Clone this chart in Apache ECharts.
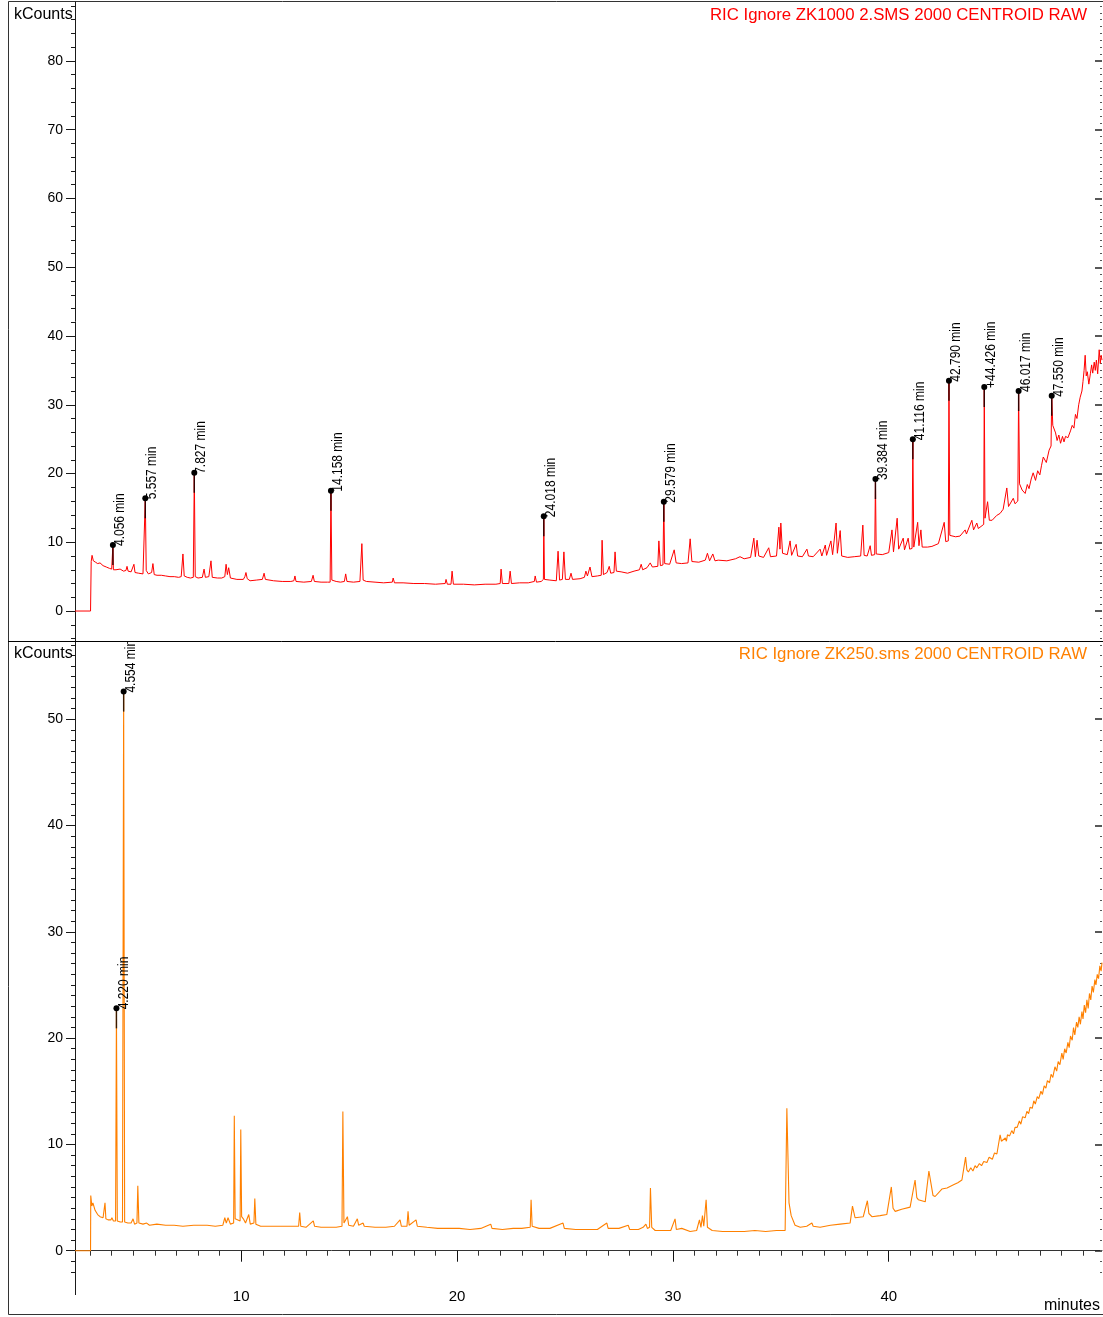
<!DOCTYPE html>
<html><head><meta charset="utf-8">
<script src="https://cdn.jsdelivr.net/npm/echarts@6/dist/echarts.min.js"></script>
<style>html,body{margin:0;padding:0;background:#fff}#c{width:1103px;height:1317px}</style>
</head><body><div id="c"></div>
<script>
// ---- Top trace: RIC ZK1000 2.SMS (minutes, kCounts) ----
const topTime = [2.3,3.02,3.05,3.09,3.15,3.25,3.35,3.46,3.6,3.75,3.9,4.0,4.04,4.056,4.08,4.2,4.39,4.55,4.66,4.71,4.76,4.9,4.98,5.03,5.08,5.25,5.45,5.53,5.557,5.6,5.7,5.78,5.85,5.91,5.97,6.1,6.3,6.5,6.7,6.9,7.1,7.22,7.3,7.36,7.5,7.65,7.78,7.827,7.87,8.0,8.09,8.2,8.28,8.34,8.5,8.6,8.66,8.9,9.1,9.24,9.3,9.36,9.42,9.5,9.8,10.1,10.17,10.22,10.28,10.41,10.7,10.98,11.06,11.12,11.5,11.9,12.3,12.44,12.49,12.54,12.9,13.25,13.33,13.39,13.7,14.0,14.12,14.158,14.2,14.4,14.6,14.78,14.84,14.9,15.2,15.5,15.59,15.65,15.8,16.2,16.6,17.0,17.04,17.1,17.5,18.0,18.5,19.0,19.45,19.49,19.55,19.72,19.77,19.83,20.3,20.8,21.3,21.8,22.0,22.04,22.1,22.4,22.46,22.52,22.9,23.3,23.58,23.62,23.68,23.9,24.0,24.018,24.05,24.3,24.6,24.68,24.75,24.88,24.95,25.02,25.2,25.28,25.35,25.7,25.9,25.97,26.04,26.16,26.25,26.5,26.68,26.72,26.78,26.95,27.05,27.12,27.27,27.32,27.38,27.6,27.9,28.2,28.45,28.53,28.6,28.8,28.95,29.05,29.3,29.35,29.42,29.54,29.579,29.62,29.85,30.06,30.15,30.4,30.7,30.8,30.88,31.2,31.5,31.6,31.7,31.85,31.95,32.1,32.5,32.9,33.11,33.3,33.6,33.75,33.82,33.9,33.98,34.2,34.44,34.52,34.8,34.91,34.96,35.0,35.08,35.3,35.43,35.5,35.71,35.78,36.0,36.21,36.28,36.5,36.82,36.9,37.06,37.12,37.32,37.4,37.56,37.62,37.75,37.82,38.1,38.4,38.7,38.8,38.86,39.0,39.14,39.2,39.35,39.384,39.42,39.7,40.0,40.15,40.22,40.39,40.46,40.67,40.73,40.9,40.97,41.08,41.116,41.16,41.34,41.4,41.49,41.55,41.8,42.0,42.3,42.57,42.64,42.76,42.79,42.83,42.88,43.1,43.3,43.54,43.6,43.85,43.93,44.08,44.15,44.24,44.4,44.426,44.46,44.58,44.66,44.79,45.0,45.16,45.3,45.47,45.55,45.77,45.85,45.98,46.017,46.06,46.18,46.32,46.42,46.5,46.6,46.69,46.8,46.9,47.0,47.08,47.16,47.3,47.43,47.52,47.55,47.6,47.73,47.8,47.88,47.96,48.05,48.12,48.19,48.3,48.42,48.5,48.58,48.65,48.72,48.8,48.87,48.95,49.0,49.05,49.1,49.15,49.2,49.27,49.34,49.4,49.45,49.52,49.57,49.62,49.68,49.75,49.8,49.84,49.88];
const topValue = [0,0,7.2,8.1,7.3,7.1,6.9,7.0,6.6,6.4,6.2,6.1,6.3,9.6,6.0,6.0,6.1,5.8,5.9,6.5,5.8,5.7,5.8,6.8,5.6,5.5,5.4,5.6,16.4,5.9,5.4,5.5,5.6,6.9,5.3,5.2,5.2,5.1,5.0,5.0,4.9,5.0,8.3,5.1,4.9,4.8,4.9,20.1,5.0,4.8,4.8,4.9,6.1,4.9,5.0,7.3,4.9,4.8,4.8,5.0,6.8,5.3,6.3,4.8,4.6,4.6,5.0,5.6,4.7,4.4,4.5,4.6,5.5,4.6,4.4,4.3,4.3,4.4,5.1,4.3,4.2,4.3,5.2,4.3,4.2,4.2,4.2,17.5,4.5,4.3,4.2,4.3,5.4,4.3,4.2,4.3,9.8,4.5,4.3,4.2,4.1,4.2,4.8,4.1,4.1,4.0,4.0,3.9,4.0,4.6,3.9,3.9,5.8,3.9,3.9,3.8,3.9,3.9,4.0,6.1,4.0,4.0,5.8,4.0,4.1,4.1,4.3,5.1,4.2,4.3,4.6,13.8,4.6,4.5,4.4,8.7,4.5,4.6,8.6,4.6,4.6,5.5,4.6,4.7,4.9,5.8,5.1,6.4,5.0,5.1,5.2,10.3,5.3,5.6,6.5,5.5,5.6,8.6,5.8,5.7,5.5,5.8,6.0,6.8,6.0,6.3,7.0,6.4,6.5,10.2,6.6,6.7,15.9,6.9,6.8,8.9,7.0,6.9,7.0,10.5,7.2,7.1,7.4,8.4,7.3,8.3,7.3,7.4,7.3,7.6,7.9,7.6,7.8,10.6,7.9,10.3,8.0,7.8,9.2,7.9,8.0,12.2,9.0,12.8,8.4,8.2,10.2,8.1,9.7,8.0,7.9,9.0,8.0,7.9,9.0,8.0,9.6,8.1,10.2,8.2,12.8,8.4,11.7,8.0,7.8,7.9,8.0,12.5,8.1,8.0,9.5,8.1,8.2,19.2,8.3,8.2,8.5,11.8,8.6,13.5,9.0,10.6,8.9,10.6,9.0,9.1,25.0,9.3,12.9,9.5,11.8,9.3,9.3,9.4,9.8,12.9,10.1,10.2,33.5,11.0,10.8,10.8,10.9,11.8,11.2,13.2,11.8,12.8,12.0,12.2,12.6,32.6,13.5,15.9,13.2,13.2,13.9,14.2,14.8,17.9,15.2,16.4,15.6,16.0,32.0,18.5,17.6,17.1,18.4,17.8,19.2,20.1,19.0,20.4,19.8,21.2,22.4,21.6,23.4,24.0,31.3,27.0,25.9,24.8,25.6,24.4,25.4,24.6,25.4,25.2,26.2,27.0,26.6,28.6,28.0,30.0,31.1,32.0,33.4,35.0,37.2,34.2,34.8,33.0,34.5,35.8,34.6,36.2,35.0,36.5,34.5,38.0,36.0,37.2,36.5];

// ---- Bottom trace: RIC ZK250.sms ----
const botTime = [2.3,3.02,3.03,3.08,3.13,3.23,3.35,3.46,3.6,3.66,3.69,3.73,3.83,3.96,4.01,4.08,4.18,4.22,4.26,4.4,4.5,4.554,4.6,4.75,4.9,4.99,5.06,5.17,5.21,5.26,5.45,5.62,5.75,6.09,6.5,6.89,7.3,7.8,8.42,8.8,9.15,9.24,9.31,9.39,9.5,9.65,9.68,9.72,9.81,9.95,9.98,10.02,10.1,10.2,10.35,10.42,10.59,10.63,10.68,10.9,11.3,11.8,12.2,12.66,12.71,12.76,13.0,13.34,13.4,13.7,14.1,14.4,14.67,14.71,14.76,14.85,14.92,14.98,15.2,15.38,15.44,15.65,15.7,16.2,16.7,17.1,17.36,17.42,17.68,17.73,17.78,18.1,18.16,18.6,19.1,19.6,20.1,20.6,21.1,21.56,21.62,22.1,22.6,23.0,23.39,23.43,23.48,23.8,24.3,24.91,24.97,25.5,26.0,26.5,26.94,27.0,27.5,27.93,28.0,28.4,28.62,28.75,28.82,28.92,28.96,29.02,29.18,29.6,29.9,30.1,30.16,30.41,30.8,31.1,31.23,31.3,31.37,31.43,31.54,31.6,31.82,32.3,32.8,33.3,33.8,34.3,34.8,35.2,35.28,35.38,35.48,35.66,35.9,36.2,36.44,36.5,36.82,37.3,37.75,38.21,38.32,38.44,38.82,39.01,39.08,39.22,39.6,39.91,40.12,40.2,40.3,40.6,40.99,41.22,41.3,41.37,41.69,41.86,41.95,42.05,42.15,42.46,42.7,43.0,43.2,43.39,43.56,43.62,43.69,43.8,43.9,44.0,44.08,44.2,44.3,44.4,44.55,44.65,44.8,44.9,45.01,45.16,45.22,45.29,45.4,45.45,45.5,45.6,45.7,45.78,45.85,45.95,46.05,46.12,46.2,46.32,46.4,46.48,46.55,46.65,46.72,46.79,46.88,46.95,47.05,47.12,47.2,47.28,47.35,47.45,47.52,47.6,47.7,47.78,47.85,47.93,48.02,48.08,48.15,48.22,48.3,48.36,48.42,48.5,48.56,48.62,48.7,48.76,48.82,48.88,48.95,49.0,49.06,49.12,49.18,49.24,49.3,49.36,49.42,49.48,49.55,49.6,49.66,49.72,49.78,49.84,49.88];
const botValue = [0,0,5.2,4.2,4.5,3.8,3.4,3.2,3.1,3.2,4.5,3.0,2.9,2.9,3.1,2.8,2.8,22.8,2.8,2.7,2.7,52.6,2.7,2.6,2.6,3.0,2.5,2.6,6.1,2.6,2.5,2.6,2.4,2.5,2.4,2.4,2.3,2.4,2.4,2.3,2.4,3.1,2.6,3.1,2.5,2.6,12.7,3.0,2.9,2.8,11.4,3.2,3.0,2.6,3.4,2.5,2.6,4.9,2.5,2.3,2.3,2.3,2.3,2.3,3.6,2.3,2.2,2.8,2.3,2.2,2.2,2.2,2.3,13.1,2.6,2.5,3.2,2.4,2.3,3.0,2.4,2.6,2.3,2.2,2.2,2.3,2.9,2.3,2.3,3.7,2.4,2.9,2.3,2.2,2.1,2.1,2.1,2.0,2.1,2.5,2.1,2.0,2.1,2.1,2.2,4.8,2.3,2.1,2.1,2.6,2.1,2.0,2.0,2.0,2.6,2.1,2.1,2.4,2.0,2.0,2.2,2.5,2.1,2.2,5.9,2.2,1.9,1.9,1.9,3.0,2.0,2.1,1.8,1.9,2.9,2.2,3.3,2.3,4.8,2.2,1.9,1.8,1.8,1.8,1.9,1.8,1.9,1.9,13.4,4.5,3.3,2.4,2.2,2.3,2.6,2.3,2.2,2.4,2.5,2.6,4.2,3.1,3.2,4.7,3.5,3.2,3.3,3.4,6.0,4.0,3.7,3.9,4.1,6.65,5.0,4.8,4.6,7.5,6.4,5.2,5.1,5.8,5.9,6.2,6.4,6.65,8.8,7.6,7.4,7.8,7.5,8.0,7.8,8.2,8.0,8.4,8.3,8.8,8.6,9.2,9.1,10.9,10.3,10.2,10.6,10.3,10.9,10.8,11.3,11.0,11.6,11.6,12.2,11.9,12.6,12.5,13.1,12.9,13.5,13.4,14.1,13.8,14.5,14.3,15.0,14.7,15.5,15.3,16.0,15.8,16.6,16.3,17.3,16.9,17.8,17.5,18.6,18.0,19.0,18.6,19.6,19.1,20.2,19.8,21.0,20.3,21.5,21.0,22.0,21.3,22.5,21.8,23.1,22.4,23.6,22.8,24.2,23.6,24.9,24.3,25.5,25.0,26.0,25.6,26.8,26.3,27.1];

// ---- Labelled peaks ----
const topPeakTimes = [4.056,5.557,7.827,14.158,24.018,29.579,39.384,41.116,42.79,44.426,46.017,47.55];
const topPeakHeights = [9.6,16.4,20.1,17.5,13.8,15.9,19.2,25.0,33.5,32.6,32.0,31.3];
const topPeakLabels = ['4.056 min','5.557 min','7.827 min','14.158 min','24.018 min','29.579 min','39.384 min','41.116 min','42.790 min','+44.426 min','46.017 min','47.550 min'];
const botPeakTimes = [4.220,4.554];
const botPeakHeights = [22.8,52.6];
const botPeakLabels = ['4.220 min','4.554 min'];

// ---- Axis ticks ----
const xMajorTicks = [10,20,30,40];
const topMajorTicks = [0,10,20,30,40,50,60,70,80];
const botMajorTicks = [0,10,20,30,40,50];
const X_MIN = 2.3, X_MAX = 49.88;
const TOP_MIN = -4.36, TOP_MAX = 88.58;
const BOT_MIN = -2.85, BOT_MAX = 57.36;

function range(a, b, s) { const r = []; for (let v = a; v <= b + 1e-9; v += s) r.push(Math.round(v * 100) / 100); return r; }
const xMinorTicks = range(3, 49, 1);
const topMinorLeft = range(-4, 88, 2);
const topMinorRight = range(-4, 88, 1);
const botMinorLeft = range(-2, 57, 1);
const botMinorRight = range(-2, 57, 1);

const FONT = 'Liberation Sans';
const PEAK_FONT = '15px "Liberation Sans", sans-serif';
const AX = '#1a1a1a';

function pairs(t, v) { return t.map((x, i) => [x, v[i]]); }

function yAx(grid, min, max, pos, ticks, len, inside, labels, color, w) {
  return {
    gridIndex: grid, type: 'value', min: min, max: max, position: pos,
    axisLine: { show: !!labels, lineStyle: { color: AX, width: 1 } },
    axisTick: { show: true, inside: inside, customValues: ticks, length: len, lineStyle: { color: color, width: w || 1 } },
    axisLabel: labels ? { show: true, customValues: labels, margin: 12, fontSize: 14, color: '#000', fontFamily: FONT } : { show: false },
    splitLine: { show: false }
  };
}

function peakRenderer(labels, color) {
  return function (params, api) {
    const p = api.coord([api.value(0), api.value(1)]);
    return {
      type: 'group', children: [
        { type: 'line', shape: { x1: p[0], y1: p[1], x2: p[0], y2: p[1] + 20 }, style: { stroke: color, lineWidth: 1.4 } },
        { type: 'circle', shape: { cx: p[0], cy: p[1], r: 3 }, style: { fill: '#000' } },
        { type: 'text', x: p[0] + 7, y: p[1] + 1, rotation: Math.PI / 2, scaleX: 0.8, scaleY: 1,
          style: { text: labels[params.dataIndex], fill: '#000', font: PEAK_FONT, align: 'left', verticalAlign: 'middle' } }
      ]
    };
  };
}

const chart = echarts.init(document.getElementById('c'), null, { renderer: 'canvas' });
chart.setOption({
  animation: false,
  backgroundColor: '#fff',
  grid: [
    { left: 75, top: 2, width: 1027, height: 639 },
    { left: 75, top: 641, width: 1027, height: 640 }
  ],
  xAxis: [
    { gridIndex: 0, type: 'value', min: X_MIN, max: X_MAX, show: false },
    { gridIndex: 1, type: 'value', min: X_MIN, max: X_MAX, position: 'bottom',
      axisLine: { show: true, lineStyle: { color: '#333', width: 1 } },
      axisTick: { show: true, customValues: xMinorTicks, length: 5, lineStyle: { color: '#333' } },
      axisLabel: { show: false }, splitLine: { show: false } },
    { gridIndex: 1, type: 'value', min: X_MIN, max: X_MAX, position: 'bottom',
      axisLine: { show: false },
      axisTick: { show: true, customValues: xMajorTicks, length: 11, lineStyle: { color: '#111' } },
      axisLabel: { show: true, customValues: xMajorTicks, margin: 8, fontSize: 15, color: '#000', fontFamily: FONT },
      splitLine: { show: false } }
  ],
  yAxis: [
    yAx(0, TOP_MIN, TOP_MAX, 'left', topMajorTicks, 9, false, topMajorTicks, AX),
    yAx(0, TOP_MIN, TOP_MAX, 'left', topMinorLeft, 4, false, null, AX),
    yAx(0, TOP_MIN, TOP_MAX, 'right', topMajorTicks, 7, true, null, '#222', 1.5),
    yAx(0, TOP_MIN, TOP_MAX, 'right', topMinorRight, 2, true, null, '#555', 1.2),
    yAx(1, BOT_MIN, BOT_MAX, 'left', botMajorTicks, 9, false, botMajorTicks, AX),
    yAx(1, BOT_MIN, BOT_MAX, 'left', botMinorLeft, 4, false, null, AX),
    yAx(1, BOT_MIN, BOT_MAX, 'right', botMajorTicks, 7, true, null, '#222', 1.5),
    yAx(1, BOT_MIN, BOT_MAX, 'right', botMinorRight, 2, true, null, '#555', 1.2)
  ],
  series: [
    { type: 'line', xAxisIndex: 0, yAxisIndex: 0, data: pairs(topTime, topValue), showSymbol: false, symbol: 'none',
      lineStyle: { color: '#ff0000', width: 1 }, z: 2 },
    { type: 'line', xAxisIndex: 1, yAxisIndex: 4, data: pairs(botTime, botValue), showSymbol: false, symbol: 'none',
      lineStyle: { color: '#ff8000', width: 1.1 }, z: 2 },
    { type: 'custom', xAxisIndex: 0, yAxisIndex: 0, clip: true, z: 5,
      data: pairs(topPeakTimes, topPeakHeights), renderItem: peakRenderer(topPeakLabels, '#300') },
    { type: 'custom', xAxisIndex: 1, yAxisIndex: 4, clip: true, z: 5,
      data: pairs(botPeakTimes, botPeakHeights), renderItem: peakRenderer(botPeakLabels, '#3a1a00') }
  ],
  graphic: [
    { type: 'rect', shape: { x: 8.5, y: 1.5, width: 1110, height: 1313 }, style: { fill: 'none', stroke: '#333', lineWidth: 1 }, z: 0 },
    { type: 'line', shape: { x1: 8, y1: 641.5, x2: 1103, y2: 641.5 }, style: { stroke: '#000', lineWidth: 1 }, z: 10 },
    { type: 'line', shape: { x1: 75.5, y1: 1281, x2: 75.5, y2: 1295 }, style: { stroke: AX, lineWidth: 1 }, z: 10 },
    { type: 'text', x: 1087, y: 15, style: { text: 'RIC Ignore ZK1000 2.SMS 2000 CENTROID RAW', fill: '#ff0000', font: '16.8px "' + FONT + '"', align: 'right', verticalAlign: 'middle' }, z: 10 },
    { type: 'text', x: 1087, y: 654, style: { text: 'RIC Ignore ZK250.sms 2000 CENTROID RAW', fill: '#ff8000', font: '16.8px "' + FONT + '"', align: 'right', verticalAlign: 'middle' }, z: 10 },
    { type: 'text', x: 14, y: 15, style: { text: 'kCounts', fill: '#000', font: '16px "' + FONT + '"', align: 'left', verticalAlign: 'middle' }, z: 10 },
    { type: 'text', x: 14, y: 654, style: { text: 'kCounts', fill: '#000', font: '16px "' + FONT + '"', align: 'left', verticalAlign: 'middle' }, z: 10 },
    { type: 'text', x: 1100, y: 1306, style: { text: 'minutes', fill: '#000', font: '16px "' + FONT + '"', align: 'right', verticalAlign: 'middle' }, z: 10 }
  ]
});
</script></body></html>
